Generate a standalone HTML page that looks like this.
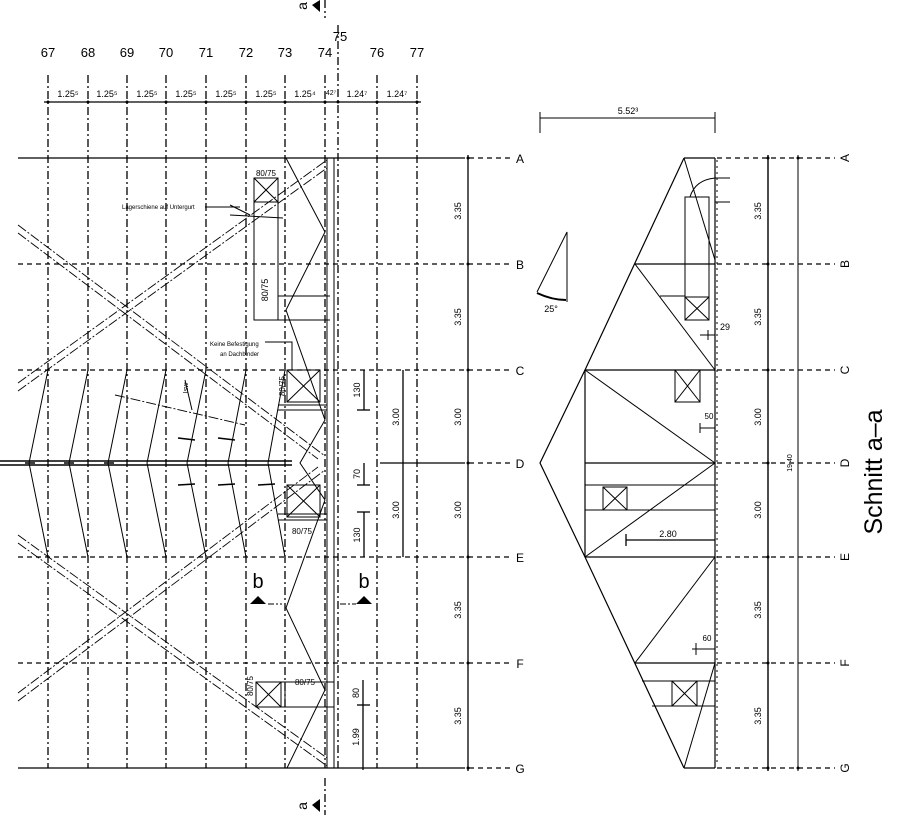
<!DOCTYPE html>
<html><head><meta charset="utf-8"><style>
html,body{margin:0;padding:0;background:#fff;}
svg{display:block;font-family:"Liberation Sans",sans-serif;}
</style></head><body>
<svg width="900" height="822" viewBox="0 0 900 822" xmlns="http://www.w3.org/2000/svg">
<rect width="900" height="822" fill="#fff"/>
<g stroke="#000" fill="none" stroke-width="1">
<g stroke-dasharray="8,3,2,3" stroke-width="1.3">
<line x1="48" y1="75" x2="48" y2="768"/>
<line x1="88" y1="75" x2="88" y2="768"/>
<line x1="127" y1="75" x2="127" y2="768"/>
<line x1="166" y1="75" x2="166" y2="768"/>
<line x1="206" y1="75" x2="206" y2="768"/>
<line x1="246" y1="75" x2="246" y2="768"/>
<line x1="285" y1="75" x2="285" y2="768"/>
<line x1="325" y1="75" x2="325" y2="768"/>
<line x1="338" y1="25" x2="338" y2="768"/>
<line x1="377" y1="75" x2="377" y2="768"/>
<line x1="417" y1="75" x2="417" y2="768"/>
<line x1="325" y1="778" x2="325" y2="815"/>
<line x1="325" y1="0" x2="325" y2="18"/>
</g>
<line x1="44" y1="102" x2="421" y2="102" stroke-width="1.3"/>
<line x1="18" y1="158" x2="460" y2="158" stroke-width="1.3"/>
<line x1="18" y1="768" x2="460" y2="768" stroke-width="1.3"/>
<line x1="380" y1="463" x2="460" y2="463" stroke-width="1.3"/>
<g stroke-dasharray="5,4" stroke-width="1.2">
<line x1="18" y1="264" x2="510" y2="264"/>
<line x1="18" y1="370" x2="510" y2="370"/>
<line x1="18" y1="557" x2="510" y2="557"/>
<line x1="18" y1="663" x2="510" y2="663"/>
<line x1="460" y1="158" x2="510" y2="158"/>
<line x1="460" y1="463" x2="510" y2="463"/>
<line x1="460" y1="768" x2="510" y2="768"/>
<line x1="717" y1="158" x2="835" y2="158"/>
<line x1="717" y1="264" x2="835" y2="264"/>
<line x1="717" y1="370" x2="835" y2="370"/>
<line x1="717" y1="463" x2="835" y2="463"/>
<line x1="717" y1="557" x2="835" y2="557"/>
<line x1="717" y1="663" x2="835" y2="663"/>
<line x1="717" y1="768" x2="835" y2="768"/>
</g>
<line x1="327" y1="158" x2="327" y2="768"/>
<line x1="334" y1="158" x2="334" y2="768"/>
<g stroke-dasharray="10,2,2,2" stroke-width="0.9">
<line x1="18" y1="225" x2="325" y2="456"/>
<line x1="18" y1="233" x2="318" y2="459"/>
<line x1="18" y1="383" x2="327" y2="160"/>
<line x1="18" y1="391" x2="327" y2="168"/>
<line x1="18" y1="701" x2="325" y2="470"/>
<line x1="18" y1="693" x2="318" y2="467"/>
<line x1="18" y1="543" x2="327" y2="766"/>
<line x1="18" y1="535" x2="327" y2="758"/>
<line x1="115" y1="395" x2="245" y2="425" />
</g>
<polyline points="48,370 29,463 48,557"/>
<polyline points="88,370 69,463 88,557"/>
<polyline points="127,370 108,463 127,557"/>
<polyline points="166,370 147,463 166,557"/>
<polyline points="206,370 187,463 206,557"/>
<polyline points="246,370 228,463 246,557"/>
<polyline points="285,370 268,463 285,557"/>
<line x1="0" y1="461" x2="292" y2="461" stroke-width="1.5"/>
<line x1="0" y1="465" x2="292" y2="465" stroke-width="1.5"/>
<g stroke-width="1.5">
<line x1="178" y1="438" x2="195" y2="440"/><line x1="218" y1="438" x2="235" y2="440"/>
<line x1="178" y1="485" x2="195" y2="484"/><line x1="218" y1="485" x2="235" y2="484"/><line x1="258" y1="485" x2="275" y2="484"/>
<line x1="25" y1="463" x2="35" y2="463"/><line x1="64" y1="463" x2="74" y2="463"/><line x1="104" y1="463" x2="114" y2="463"/>
</g>
<polyline points="286,158 325,232 286,310 325,420 300,463 325,500 286,608 325,690 287,768"/>
<rect x="254" y="178" width="24" height="142"/>
<rect x="254" y="178" width="24" height="24"/>
<line x1="254" y1="178" x2="278" y2="202"/><line x1="278" y1="178" x2="254" y2="202"/>
<line x1="278" y1="296" x2="330" y2="296"/>
<line x1="254" y1="320" x2="330" y2="320"/>
<line x1="230" y1="205" x2="250" y2="215"/><line x1="230" y1="215" x2="283" y2="218"/>
<rect x="287" y="370" width="33" height="32"/>
<line x1="287" y1="370" x2="320" y2="402"/><line x1="320" y1="370" x2="287" y2="402"/>
<line x1="278" y1="405" x2="327" y2="405"/><line x1="278" y1="410" x2="327" y2="410"/>
<rect x="287" y="485" width="33" height="32"/>
<line x1="287" y1="485" x2="320" y2="517"/><line x1="320" y1="485" x2="287" y2="517"/>
<line x1="278" y1="514" x2="327" y2="514"/><line x1="278" y1="520" x2="327" y2="520"/>
<rect x="256" y="682" width="25" height="25"/>
<line x1="256" y1="682" x2="281" y2="707"/><line x1="281" y1="682" x2="256" y2="707"/>
<line x1="281" y1="682" x2="334" y2="682"/><line x1="281" y1="707" x2="334" y2="707"/>
<line x1="285" y1="682" x2="285" y2="707"/>
<line x1="205" y1="207" x2="240" y2="207"/>
<polyline points="265,342 292,342 292,370"/>
<line x1="185" y1="380" x2="192" y2="410"/>
<g stroke-width="1.3">
<line x1="364" y1="370" x2="364" y2="410"/><line x1="357" y1="410" x2="370" y2="410"/>
<line x1="364" y1="463" x2="364" y2="485"/><line x1="357" y1="485" x2="370" y2="485"/>
<line x1="364" y1="512" x2="364" y2="557"/><line x1="357" y1="512" x2="370" y2="512"/>
<line x1="403" y1="370" x2="403" y2="557"/>
<line x1="363" y1="680" x2="363" y2="770"/><line x1="357" y1="705" x2="370" y2="705"/>
<line x1="468" y1="155" x2="468" y2="771"/>
</g>
<line x1="268" y1="604" x2="282" y2="604" stroke-dasharray="6,2,2,2"/>
<line x1="340" y1="604" x2="356" y2="604" stroke-dasharray="6,2,2,2"/>
<g stroke-width="1.2">
<polyline points="684,158 585,370 540,463 585,557 684,768"/>
<line x1="684" y1="158" x2="715" y2="158"/>
<line x1="715" y1="158" x2="715" y2="768"/>
<line x1="684" y1="768" x2="715" y2="768"/>
<line x1="635" y1="264" x2="715" y2="264"/>
<line x1="585" y1="370" x2="715" y2="370"/>
<line x1="585" y1="463" x2="715" y2="463"/>
<line x1="585" y1="557" x2="715" y2="557"/>
<line x1="635" y1="663" x2="715" y2="663"/>
<line x1="585" y1="370" x2="585" y2="557"/>
</g>
<line x1="684" y1="158" x2="715" y2="260"/>
<line x1="635" y1="264" x2="715" y2="370"/>
<line x1="585" y1="370" x2="715" y2="463"/>
<line x1="585" y1="557" x2="715" y2="463"/>
<line x1="715" y1="557" x2="635" y2="663"/>
<line x1="715" y1="663" x2="684" y2="768"/>
<line x1="717" y1="160" x2="717" y2="766" stroke-dasharray="2,4"/>
<rect x="685" y="197" width="24" height="123"/>
<line x1="685" y1="297" x2="709" y2="297"/>
<line x1="685" y1="297" x2="709" y2="320"/><line x1="709" y1="297" x2="685" y2="320"/>
<path d="M690,197 Q695,180 715,178"/>
<line x1="715" y1="178" x2="730" y2="178"/><line x1="715" y1="202" x2="730" y2="202"/>
<line x1="660" y1="296" x2="685" y2="296"/>
<rect x="675" y="370" width="25" height="32"/>
<line x1="675" y1="370" x2="700" y2="402"/><line x1="700" y1="370" x2="675" y2="402"/>
<line x1="585" y1="485" x2="715" y2="485"/><line x1="585" y1="510" x2="715" y2="510"/>
<rect x="603" y="487" width="24" height="23"/>
<line x1="603" y1="487" x2="627" y2="510"/><line x1="627" y1="487" x2="603" y2="510"/>
<line x1="642" y1="681" x2="715" y2="681"/><line x1="652" y1="706" x2="715" y2="706"/>
<rect x="672" y="681" width="25" height="25"/>
<line x1="672" y1="681" x2="697" y2="706"/><line x1="697" y1="681" x2="672" y2="706"/>
<line x1="626" y1="540" x2="715" y2="540" stroke-width="1.3"/><line x1="626" y1="534" x2="626" y2="546" stroke-width="1.3"/>
<line x1="700" y1="335" x2="715" y2="335"/><line x1="708" y1="330" x2="708" y2="340"/>
<line x1="700" y1="428" x2="715" y2="428"/><line x1="700" y1="423" x2="700" y2="433"/>
<line x1="692" y1="649" x2="715" y2="649"/><line x1="696" y1="643" x2="696" y2="655"/>
<line x1="540" y1="118" x2="715" y2="118"/>
<line x1="540" y1="112" x2="540" y2="133"/><line x1="715" y1="112" x2="715" y2="133"/>
<line x1="768" y1="155" x2="768" y2="771" stroke-width="1.4"/>
<line x1="798" y1="155" x2="798" y2="771"/>
<polyline points="537,292 567,232 567,302"/>
<path d="M537,293 Q552,300 566,300" stroke-width="2"/>
</g>
<g fill="#000">
<polygon points="312,5 320,0 320,12"/>
<polygon points="312,805 320,799 320,812"/>
<polygon points="250,604 258,596 266,604"/>
<polygon points="356,604 364,596 372,604"/>
<g>
<circle cx="48" cy="102" r="1.5"/><circle cx="88" cy="102" r="1.5"/><circle cx="127" cy="102" r="1.5"/><circle cx="166" cy="102" r="1.5"/><circle cx="206" cy="102" r="1.5"/><circle cx="246" cy="102" r="1.5"/><circle cx="285" cy="102" r="1.5"/><circle cx="325" cy="102" r="1.5"/><circle cx="338" cy="102" r="1.5"/><circle cx="377" cy="102" r="1.5"/><circle cx="417" cy="102" r="1.5"/>
<circle cx="468" cy="158" r="1.5"/><circle cx="468" cy="264" r="1.5"/><circle cx="468" cy="370" r="1.5"/><circle cx="468" cy="463" r="1.5"/><circle cx="468" cy="557" r="1.5"/><circle cx="468" cy="663" r="1.5"/><circle cx="468" cy="768" r="1.5"/>
<circle cx="768" cy="158" r="1.5"/><circle cx="768" cy="264" r="1.5"/><circle cx="768" cy="370" r="1.5"/><circle cx="768" cy="463" r="1.5"/><circle cx="768" cy="557" r="1.5"/><circle cx="768" cy="663" r="1.5"/><circle cx="768" cy="768" r="1.5"/>
<circle cx="798" cy="158" r="1.5"/><circle cx="798" cy="768" r="1.5"/>
</g>
</g>
<g font-size="13" fill="#000" text-anchor="middle">
<text x="48" y="57">67</text><text x="88" y="57">68</text><text x="127" y="57">69</text><text x="166" y="57">70</text><text x="206" y="57">71</text><text x="246" y="57">72</text><text x="285" y="57">73</text><text x="325" y="57">74</text><text x="340" y="41">75</text><text x="377" y="57">76</text><text x="417" y="57">77</text>
</g>
<g font-size="9" fill="#000" text-anchor="middle">
<text x="68" y="97">1.25⁵</text><text x="107" y="97">1.25⁵</text><text x="147" y="97">1.25⁵</text><text x="186" y="97">1.25⁵</text><text x="226" y="97">1.25⁵</text><text x="266" y="97">1.25⁵</text><text x="305" y="97">1.25⁴</text><text x="331" y="95" font-size="7">42⁷</text><text x="357" y="97">1.24⁷</text><text x="397" y="97">1.24⁷</text>
<text x="266" y="176" font-size="8">80/75</text>
<text x="628" y="114">5.52³</text>
<text x="551" y="312">25°</text>
<text x="668" y="537">2.80</text>
<text x="709" y="419" font-size="8">50</text>
<text x="707" y="641" font-size="8">60</text>
<text x="725" y="330" font-size="9">29</text>
<text x="305" y="685" font-size="8">80/75</text>
<text x="302" y="534" font-size="8">80/75</text>
</g>
<g font-size="6" fill="#000">
<text x="122" y="209">Lagerschiene auf Untergurt</text>
<text x="210" y="346">Keine Befestigung</text>
<text x="220" y="356">an Dachbinder</text>
</g>
<g font-size="9" fill="#000" text-anchor="middle">
<text transform="translate(461,211) rotate(-90)">3.35</text>
<text transform="translate(461,317) rotate(-90)">3.35</text>
<text transform="translate(461,417) rotate(-90)">3.00</text>
<text transform="translate(461,510) rotate(-90)">3.00</text>
<text transform="translate(461,610) rotate(-90)">3.35</text>
<text transform="translate(461,716) rotate(-90)">3.35</text>
<text transform="translate(761,211) rotate(-90)">3.35</text>
<text transform="translate(761,317) rotate(-90)">3.35</text>
<text transform="translate(761,417) rotate(-90)">3.00</text>
<text transform="translate(761,510) rotate(-90)">3.00</text>
<text transform="translate(761,610) rotate(-90)">3.35</text>
<text transform="translate(761,716) rotate(-90)">3.35</text>
<text transform="translate(792,463) rotate(-90)" font-size="7">19.40</text>
<text transform="translate(360,390) rotate(-90)">130</text>
<text transform="translate(360,474) rotate(-90)">70</text>
<text transform="translate(360,535) rotate(-90)">130</text>
<text transform="translate(399,417) rotate(-90)">3.00</text>
<text transform="translate(399,510) rotate(-90)">3.00</text>
<text transform="translate(359,693) rotate(-90)">80</text>
<text transform="translate(359,737) rotate(-90)">1.99</text>
<text transform="translate(268,290) rotate(-90)">80/75</text>
<text transform="translate(285,386) rotate(-90)" font-size="8">80/75</text>
<text transform="translate(253,686) rotate(-90)" font-size="8">80/75</text>
<text transform="translate(188,388) rotate(-90)" font-size="7">Isw</text>
</g>
<g font-size="12" fill="#000" text-anchor="middle">
<text x="520" y="163">A</text><text x="520" y="269">B</text><text x="520" y="375">C</text><text x="520" y="468">D</text><text x="520" y="562">E</text><text x="520" y="668">F</text><text x="520" y="773">G</text>
<text transform="translate(849,158) rotate(-90)">A</text>
<text transform="translate(849,264) rotate(-90)">B</text>
<text transform="translate(849,370) rotate(-90)">C</text>
<text transform="translate(849,463) rotate(-90)">D</text>
<text transform="translate(849,557) rotate(-90)">E</text>
<text transform="translate(849,663) rotate(-90)">F</text>
<text transform="translate(849,768) rotate(-90)">G</text>
<text transform="translate(307,6) rotate(-90)" font-size="14">a</text>
<text transform="translate(307,806) rotate(-90)" font-size="14">a</text>
</g>
<g font-size="20" fill="#000" text-anchor="middle">
<text x="258" y="588">b</text><text x="364" y="588">b</text>
</g>
<text transform="translate(882,472) rotate(-90)" font-size="25" text-anchor="middle" fill="#000">Schnitt a–a</text>
</svg>
</body></html>
